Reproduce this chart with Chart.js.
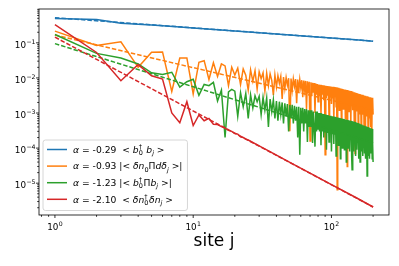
<!DOCTYPE html>
<html>
<head>
<meta charset="utf-8">
<script src="https://cdn.jsdelivr.net/npm/chart.js@4.4.1/dist/chart.umd.min.js"></script>
<style>
  html, body { margin: 0; padding: 0; background: #fff; }
  canvas { display: block; }
</style>
</head>
<body>
<canvas id="chart" width="399" height="266"></canvas>
<script>
// sites j = 1 .. 200
const sites = Array.from({ length: 200 }, (_, i) => i + 1);

// <b0+ bj>
const blueSites = [1, 2, 3, 4, 5, 6, 8, 10, 15, 20, 30, 50, 70, 100, 150, 200];
const blueVals = [0.49, 0.465, 0.36, 0.34, 0.32, 0.305, 0.283, 0.266, 0.237, 0.218, 0.195, 0.168, 0.152, 0.137, 0.122, 0.111];

// |<dn0 P d dj>|
const orangeVals = [
  0.215, 0.084, 0.107, 0.02, 0.054, 0.055, 0.0041, 0.037, 0.037, 0.0035,
  0.028, 0.031, 0.009, 0.027, 0.011, 0.025, 0.022, 0.006, 0.02, 0.012,
  0.019, 0.0065, 0.018, 0.012, 0.0045, 0.017, 0.008, 0.016, 0.0048, 0.015,
  0.0095, 0.014, 0.0042, 0.0135, 0.006, 0.013, 0.0085, 0.0032, 0.012, 0.0055,
  0.0115, 0.007, 0.011, 0.0025, 0.0105, 0.005, 0.0102, 0.0062, 0.0098, 0.0003,
  0.0096, 0.0045, 0.0094, 0.0058, 0.0093, 0.0019, 0.009, 0.004, 0.0089, 0.0052,
  0.0086, 0.0028, 0.0084, 0.0045, 0.0082, 0.0013, 0.008, 0.0036, 0.0078, 0.00016,
  0.0075, 0.0031, 0.0073, 0.0038, 0.0071, 0.001, 0.0069, 0.0033, 0.0067, 0.0021,
  0.0065, 0.003, 0.0064, 0.0009, 0.0063, 0.0033, 0.0062, 0.0023, 0.0061, 0.000065,
  0.006, 0.0027, 0.0059, 0.0031, 0.0058, 0.0008, 0.0058, 0.0029, 0.0057, 0.0018,
  0.0056, 0.0026, 0.0056, 0.0006, 0.0055, 0.0028, 0.0054, 0.0015, 0.0054, 0.0000065,
  0.0053, 0.0025, 0.0052, 0.0012, 0.0051, 0.0027, 0.005, 0.0005, 0.0049, 0.0023,
  0.0048, 0.0013, 0.0047, 0.0025, 0.0047, 0.0007, 0.0046, 0.0021, 0.0045, 0.00003,
  0.0045, 0.002, 0.0044, 0.0011, 0.0043, 0.0022, 0.0042, 0.0004, 0.0042, 0.0019,
  0.0041, 0.0012, 0.004, 0.002, 0.0039, 0.0006, 0.0039, 0.00007, 0.0038, 0.0018,
  0.0037, 0.0011, 0.0037, 0.0019, 0.0036, 0.0005, 0.0035, 0.0017, 0.0035, 0.0009,
  0.0034, 0.0017, 0.0034, 0.0003, 0.0033, 0.0016, 0.0033, 0.0009, 0.0032, 0.0016,
  0.0032, 0.0004, 0.0031, 0.0015, 0.0031, 0.00009, 0.003, 0.0014, 0.003, 0.0008,
  0.003, 0.0014, 0.0029, 0.0003, 0.0029, 0.0013, 0.0028, 0.0007, 0.0028, 0.0013,
  0.0028, 0.0004, 0.0027, 0.0012, 0.0027, 0.00011, 0.0027, 0.0011, 0.0026, 0.0009
];

// |<b0+ P bj>|
const greenVals = [
  0.173, 0.05, 0.037, 0.025, 0.014, 0.0125, 0.0145, 0.0055, 0.0078, 0.0092,
  0.0032, 0.0065, 0.006, 0.0075, 0.0022, 0.0045, 0.0002, 0.004, 0.0047, 0.0042,
  0.0008, 0.0038, 0.0015, 0.0036, 0.0007, 0.0033, 0.0014, 0.0031, 0.0021, 0.003,
  0.0009, 0.0028, 0.0012, 0.0027, 0.0004, 0.0025, 0.0011, 0.0024, 0.0007, 0.0022,
  0.0006, 0.0021, 0.0009, 0.002, 0.0005, 0.0019, 0.0008, 0.0018, 0.0003, 0.0017,
  0.0007, 0.0017, 0.0005, 0.0016, 0.0006, 0.0015, 0.0002, 0.0015, 0.000065, 0.0014,
  0.0005, 0.0014, 0.0003, 0.0013, 0.0005, 0.0013, 0.00015, 0.0012, 0.0004, 0.0012,
  0.0004, 0.0012, 0.00014, 0.0011, 0.0004, 0.00011, 0.0011, 0.0003, 0.0011, 0.00035,
  0.001, 0.0003, 0.001, 0.00012, 0.00097, 0.0003, 0.00094, 0.0002, 0.00092, 0.00029,
  0.0009, 0.00009, 0.00088, 0.00027, 0.00086, 0.00015, 0.00084, 0.00026, 0.00083, 0.00008,
  0.00081, 0.00025, 0.0008, 0.00013, 0.00078, 0.00024, 0.00077, 0.00006, 0.00076, 0.00023,
  0.00074, 0.00012, 0.00073, 0.00022, 0.00072, 0.00005, 0.00071, 0.00021, 0.0007, 0.0001,
  0.00068, 0.0002, 0.00067, 0.00009, 0.00066, 0.0002, 0.00065, 0.00004, 0.00064, 0.00019,
  0.00063, 0.0001, 0.00062, 0.00019, 0.00061, 0.00008, 0.0006, 0.00018, 0.00059, 0.00006,
  0.000024, 0.00058, 0.00017, 0.00057, 0.00008, 0.00056, 0.00017, 0.00055, 0.00006, 0.00054,
  0.00017, 0.00053, 0.00009, 0.00052, 0.00016, 0.00051, 0.00005, 0.0005, 0.00016, 0.00049,
  0.00004, 0.00048, 0.00015, 0.00047, 0.00008, 0.00046, 0.00015, 0.00045, 0.00006, 0.00044,
  0.00015, 0.00043, 0.00007, 0.00043, 0.00014, 0.00042, 0.00005, 0.00041, 0.00014, 0.00041,
  0.000016, 0.0004, 0.00014, 0.00039, 0.00006, 0.00039, 0.00013, 0.00038, 0.00005, 0.00037,
  0.00013, 0.00037, 0.00007, 0.00036, 0.00013, 0.00035, 0.00005, 0.00035, 0.00013, 0.00004
];

// <dn0+ dnj>
const redSites = [1, 2, 3, 4, 5, 6, 7, 8, 9, 10, 11, 12, 13, 14, 15, 16, 17, 18, 19, 20, 21, 22, 23, 24, 25, 30, 40, 50, 70, 100, 150, 200];
const redVals = [0.33, 0.053, 0.0083, 0.024, 0.0115, 0.0093, 0.001, 0.00053, 0.0021, 0.00044,
  0.00088, 0.0006, 0.0007, 0.00048, 0.00047, 0.00041, 0.00037, 0.00032, 0.0003, 0.00026,
  0.00025, 0.00021, 0.0002, 0.00018, 0.00017, 0.000115, 0.000063, 0.000039, 0.0000193, 0.0000091, 0.0000039, 0.0000021];

// power-law fits, end points at j = 1 and j = 200
const fitSites = [1, 200];
const fitBlue = [0.52, 0.112];
const fitOrange = [0.167, 0.00121];
const fitGreen = [0.095, 0.000141];
const fitRed = [0.145, 0.0000021];

const alphas = ["-0.29", "-0.93", "-1.23", "-2.10"];
const colors = ["#1f77b4", "#ff7f0e", "#2ca02c", "#d62728"];

// tick labels: 10 with these exponents
const xTickValues = [1, 10, 100];
const xTickExp = ["0", "1", "2"];
const yTickValues = [1e-5, 1e-4, 1e-3, 1e-2, 1e-1];
const yTickExp = ["−5", "−4", "−3", "−2", "−1"];

const FONT = "DejaVu Sans";

function pts(xs, ys) {
  return xs.map((x, i) => ({ x: x, y: ys[i] }));
}

// legend labels as small pieces of math text
const legendParts = [
  [["i", "α"], ["r", " = " + alphas[0] + "  <"], ["i", " b"], ["ss", "0", "†"], ["i", " b"], ["sbi", "j"], ["r", " >"]],
  [["i", "α"], ["r", " = " + alphas[1] + " |<"], ["i", " δn"], ["sb", "0"], ["r", "Π"], ["i", "dδ"], ["sbi", "j"], ["r", " >|"]],
  [["i", "α"], ["r", " = " + alphas[2] + " |<"], ["i", " b"], ["ss", "0", "†"], ["r", "Π"], ["i", "b"], ["sbi", "j"], ["r", " >|"]],
  [["i", "α"], ["r", " = " + alphas[3] + "  <"], ["i", " δn"], ["ss", "0", "†"], ["i", "δn"], ["sbi", "j"], ["r", " >"]]
];

function drawRich(ctx, x, y, parts, measureOnly) {
  const big = 9.2, small = 6.5;
  for (const p of parts) {
    const st = p[0];
    if (st === "ss") {
      ctx.font = small + "px '" + FONT + "'";
      const w = Math.max(ctx.measureText(p[1]).width, ctx.measureText(p[2]).width);
      if (!measureOnly) {
        ctx.fillText(p[1], x, y + 2.3);
        ctx.fillText(p[2], x, y - 3.6);
      }
      x += w + 0.6;
      continue;
    }
    let size = big, dy = 0, style = "";
    if (st === "i") style = "italic ";
    if (st === "sb" || st === "sbi") { size = small; dy = 2.3; }
    if (st === "sbi") style = "italic ";
    ctx.font = style + size + "px '" + FONT + "'";
    if (!measureOnly) ctx.fillText(p[1], x, y + dy);
    x += ctx.measureText(p[1]).width;
  }
  return x;
}

// "10" with a raised exponent; align 'center' or 'right'
function drawPow(ctx, exp, x, y, align) {
  ctx.font = "8.8px '" + FONT + "'";
  const w1 = ctx.measureText("10").width;
  ctx.font = "6.2px '" + FONT + "'";
  const w2 = ctx.measureText(exp).width;
  const total = w1 + 0.4 + w2;
  const x0 = align === "right" ? x - total : x - total / 2;
  ctx.font = "8.8px '" + FONT + "'";
  ctx.fillText("10", x0, y);
  ctx.font = "6.2px '" + FONT + "'";
  ctx.fillText(exp, x0 + w1 + 0.4, y - 3.9);
}

const axesPlugin = {
  id: "axesFrame",
  afterDraw(chart) {
    const ctx = chart.ctx;
    const a = chart.chartArea;
    const xs = chart.scales.x, ys = chart.scales.y;
    ctx.save();
    ctx.strokeStyle = "#000";
    ctx.lineWidth = 0.8;
    ctx.strokeRect(a.left, a.top, a.right - a.left, a.bottom - a.top);
    // major + minor ticks
    ctx.beginPath();
    for (let e = -1; e <= 3; e++) {
      for (let m = 1; m <= 9; m++) {
        const v = m * Math.pow(10, e);
        if (v < xs.min || v > xs.max) continue;
        const px = xs.getPixelForValue(v);
        const len = m === 1 ? 3 : 1.8;
        ctx.moveTo(px, a.bottom);
        ctx.lineTo(px, a.bottom + len);
      }
    }
    for (let e = -7; e <= 0; e++) {
      for (let m = 1; m <= 9; m++) {
        const v = m * Math.pow(10, e);
        if (v < ys.min || v > ys.max) continue;
        const py = ys.getPixelForValue(v);
        const len = m === 1 ? 3 : 1.8;
        ctx.moveTo(a.left, py);
        ctx.lineTo(a.left - len, py);
      }
    }
    ctx.stroke();

    // tick labels
    ctx.fillStyle = "#000";
    ctx.textBaseline = "alphabetic";
    ctx.textAlign = "left";
    xTickValues.forEach((v, i) => drawPow(ctx, xTickExp[i], xs.getPixelForValue(v), 230, "center"));
    yTickValues.forEach((v, i) => drawPow(ctx, yTickExp[i], 35.5, ys.getPixelForValue(v) + 4.8, "right"));

    // legend
    const bx = 43, by = 140, rowY = [149.5, 166.1, 182.7, 199.3];
    const textX = 73;
    let maxX = 0;
    legendParts.forEach(parts => { maxX = Math.max(maxX, drawRich(ctx, textX, 0, parts, true)); });
    const bw = maxX + 5 - bx, bh = 70.5;
    ctx.beginPath();
    ctx.roundRect(bx, by, bw, bh, 2.5);
    ctx.fillStyle = "rgba(255,255,255,0.8)";
    ctx.fill();
    ctx.strokeStyle = "#cccccc";
    ctx.lineWidth = 0.8;
    ctx.stroke();
    legendParts.forEach((parts, i) => {
      ctx.strokeStyle = colors[i];
      ctx.lineWidth = 1.5;
      ctx.beginPath();
      ctx.moveTo(47, rowY[i]);
      ctx.lineTo(67, rowY[i]);
      ctx.stroke();
      ctx.fillStyle = "#000";
      drawRich(ctx, textX, rowY[i] + 3.2, parts, false);
    });
    ctx.restore();
  }
};

const solid = (label, data, c, order) => ({
  label: label, data: data, borderColor: c, backgroundColor: c,
  borderWidth: 1.5, pointRadius: 0, fill: false, order: order
});
const dashed = (data, c, order) => ({
  label: "", data: data, borderColor: c, backgroundColor: c,
  borderWidth: 1.5, borderDash: [4.5, 2], pointRadius: 0, fill: false, order: order
});

new Chart(document.getElementById("chart").getContext("2d"), {
  type: "line",
  data: {
    datasets: [
      solid("<b0+ bj>", pts(blueSites, blueVals), colors[0], 8),
      dashed(pts(fitSites, fitBlue), colors[0], 7),
      solid("|<dn0 P d dj>|", pts(sites, orangeVals), colors[1], 6),
      dashed(pts(fitSites, fitOrange), colors[1], 5),
      solid("|<b0+ P bj>|", pts(sites, greenVals), colors[2], 4),
      dashed(pts(fitSites, fitGreen), colors[2], 3),
      solid("<dn0+ dnj>", pts(redSites, redVals), colors[3], 2),
      dashed(pts(fitSites, fitRed), colors[3], 1)
    ]
  },
  options: {
    responsive: false,
    animation: false,
    devicePixelRatio: 1,
    layout: { padding: { top: 9, right: 10, left: 0, bottom: 0 } },
    plugins: { legend: { display: false }, tooltip: { enabled: false } },
    elements: { line: { tension: 0 } },
    scales: {
      x: {
        type: "logarithmic",
        min: 0.767,
        max: 260.7,
        bounds: "data",
        afterBuildTicks: s => { s.ticks = xTickValues.map(v => ({ value: v })); },
        afterFit: s => { s.height = 51; },
        grid: { display: false, drawTicks: false },
        border: { display: false },
        ticks: { display: false },
        title: {
          display: true,
          text: "site j",
          font: { family: FONT, size: 17 },
          color: "#000",
          padding: { top: 0, bottom: 14 }
        }
      },
      y: {
        type: "logarithmic",
        min: 1.24e-6,
        max: 0.92,
        bounds: "data",
        afterBuildTicks: s => { s.ticks = yTickValues.map(v => ({ value: v })); },
        afterFit: s => { s.width = 39; },
        grid: { display: false, drawTicks: false },
        border: { display: false },
        ticks: { display: false }
      }
    }
  },
  plugins: [axesPlugin]
});
</script>
</body>
</html>
